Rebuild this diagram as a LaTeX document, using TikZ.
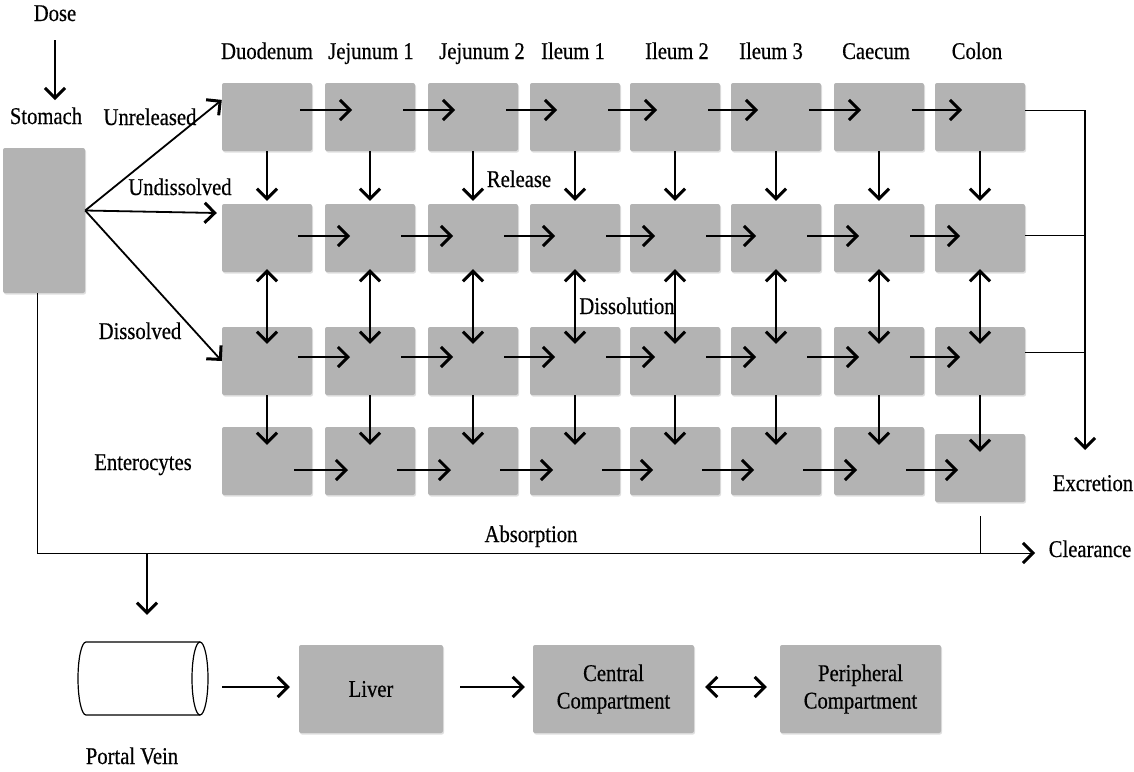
\documentclass[tikz,border=0pt]{standalone}
\usepackage{fontspec}
\setmainfont{Liberation Serif}[FakeStretch=0.86,FakeBold=0.5]
\usetikzlibrary{arrows.meta,calc,shadows}
\definecolor{boxgray}{RGB}{179,179,179}
\begin{document}
\begin{tikzpicture}[x=1pt,y=-1pt,
  box/.style={fill=boxgray, rounded corners=2pt, minimum width=90pt, minimum height=68pt, inner sep=0pt,
    drop shadow={shadow xshift=1pt,shadow yshift=-1.5pt,opacity=0.25}},
  txt/.style={font=\fontsize{24}{27.5}\selectfont, align=center},
  lbl/.style={txt, inner sep=0pt, anchor=base},
  tip/.tip={Straight Barb[length=10pt,width=20pt,line width=3pt]},
  arr/.style={line width=1.8pt, -tip},
  darr/.style={line width=1.8pt, tip-tip},
  thinline/.style={line width=0.8pt}]
\useasboundingbox (0,0) rectangle (1134,771);

% stomach
\node[box, minimum width=82pt, minimum height=145pt] (stomach) at (44,220.5) {};
\node[lbl] (dose) at (55,21) {Dose};
\node[lbl] (stomachlbl) at (46,124) {Stomach};
\draw[arr] ($(dose.base)+(0,19)$) -- ($(dose.base |- stomachlbl.base)+(0,-24)$);

% grid of boxes
\foreach \c/\x in {1/267,2/370,3/473,4/575,5/675,6/776,7/879,8/980}{
  \node[box] (r1c\c) at (\x,117) {};
  \node[box] (r2c\c) at (\x,238) {};
  \node[box] (r3c\c) at (\x,361) {};
}
\foreach \c/\x in {1/267,2/370,3/473,4/575,5/675,6/776,7/879}{
  \node[box] (r4c\c) at (\x,461) {};
}
\node[box] (r4c8) at (980,468) {};

% column labels
\foreach \x/\t in {267/Duodenum,371/Jejunum 1,482/Jejunum 2,573/Ileum 1,677/Ileum 2,771/Ileum 3,876/Caecum,977/Colon}{
  \node[lbl] at (\x,59) {\t};
}
% row labels
\node[lbl] (unrel) at (150,125) {Unreleased};
\node[lbl] (undis) at (180,195) {Undissolved};
\node[lbl] (dis) at (140,339) {Dissolved};
\node[lbl] (ent) at (143,470) {Enterocytes};
\node[lbl] (rel) at (519,187) {Release};
\node[lbl] (diss) at (627,314) {Dissolution};

% stomach to rows
\draw[arr] ($(stomach.east)+(0,-10)$) -- ($(r1c1.north west)!0.25!(r1c1.south west)$);
\draw[arr] ($(stomach.east)+(0,-10)$) -- ($(r2c1.west)+(-5,-25)$);
\draw[arr] ($(stomach.east)+(0,-10)$) -- (r3c1.west);

% horizontal arrows
\foreach \c [evaluate=\c as \n using int(\c+1)] in {1,...,7}{
  \draw[arr] ($(r1c\c.center)+(33,-7)$) -- ($(r1c\n.center)+(-18,-7)$);
  \draw[arr] ($(r2c\c.center)+(31,-2)$) -- ($(r2c\n.center)+(-20,-2)$);
  \draw[arr] ($(r3c\c.center)+(31,-4)$) -- ($(r3c\n.center)+(-20,-4)$);
  \path ($(r4c\c.center)+(27,9)$) coordinate (s) ($(r4c\n.center)+(-22,0)$) coordinate (e);
  \draw[arr] (s) -- (s -| e);
}
% vertical arrows
\foreach \c in {1,...,8}{
  \draw[arr] (r1c\c.south) -- ($(r2c\c.north)+(0,-3)$);
  \draw[darr] ($(r2c\c.south)+(0,-3)$) -- ($(r3c\c.north)+(0,17)$);
  \draw[arr] (r3c\c.south) -- ($(r4c\c.north)+(0,18)$);
}

% excretion
\coordinate (exc) at (1085,450);
\draw[thinline] ($(r1c8.east)+(0,-7)$) coordinate (e1) -- (e1 -| exc);
\draw[thinline] ($(r2c8.east)+(0,-3)$) coordinate (e2) -- (e2 -| exc);
\draw[thinline] ($(r3c8.east)+(0,-9)$) coordinate (e3) -- (e3 -| exc);
\draw[arr] (e1 -| exc) -- (exc);
\node[lbl] (excl) at (1093,491) {Excretion};

% absorption / clearance
\coordinate (clr) at (1035,553);
\draw[line width=1pt, -tip] ($(stomach.south)+(-7,0)$) |- (clr);
\draw[thinline] ($(r4c8.south)+(0,14)$) -- (r4c8.south |- clr);
\node[lbl] (abs) at (531,542) {Absorption};
\node[lbl] (clrl) at (1090,557) {Clearance};

% portal vein
\node[inner sep=0pt, minimum width=130pt, minimum height=73pt] (pv) at (143,678.5) {};
\draw[line width=1.2pt, fill=white] (200,642) -- (86,642)
   arc[start angle=90, end angle=270, x radius=8pt, y radius=36.5pt] -- (200,715);
\draw[line width=1.2pt] (200,678.5) ellipse [x radius=8pt, y radius=36.5pt];
\node[lbl] (pvl) at (132,764) {Portal Vein};
\coordinate (pa) at (147,553);
\draw[arr] (pa) -- ($(pa |- pv.north)+(0,-27)$);

% bottom chain
\node[box, txt, minimum width=144pt, minimum height=88pt] (liver) at (371,689) {Liver};
\node[box, txt, minimum width=161pt, minimum height=88pt] (central) at (613.5,689) {Central\\Compartment};
\node[box, txt, minimum width=161pt, minimum height=88pt] (periph) at (860.5,689) {Peripheral\\Compartment};
\draw[arr] ($(pv.east)+(14,8.5)$) -- ($(liver.west)+(-9,-2)$);
\draw[arr] ($(liver.east)+(17,-2)$) -- ($(central.west)+(-8,-2)$);
\draw[darr] ($(central.east)+(11,-2)$) -- ($(periph.west)+(-13,-2)$);
\end{tikzpicture}
\end{document}
